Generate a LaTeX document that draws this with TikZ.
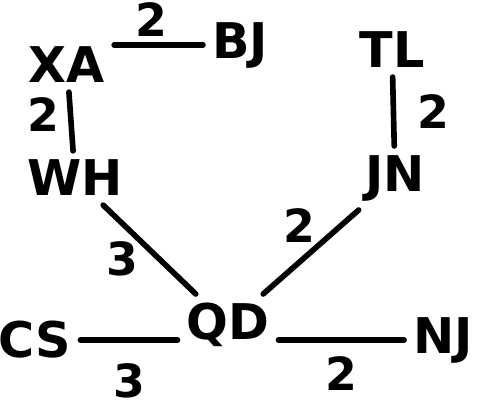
\documentclass[tikz,border=0pt]{standalone}
\usepackage{fontspec}
\setmainfont{DejaVu Sans}

\tikzset{
    stadt/.style={font=\fontsize{28}{28}\selectfont\bfseries, inner sep=5pt},
    gewicht/.style={font=\fontsize{26}{26}\selectfont\bfseries, inner sep=2pt},
    kante/.style={line width=3.2pt, line cap=round}
}

\begin{document}
\begin{tikzpicture}
    \useasboundingbox (0,0) rectangle (9.62,8.14);
    \path node[stadt] (XA) at (1.34,6.84) {XA}
        node[stadt] (BJ) at (4.80,7.24) {BJ}
        node[stadt] (TL) at (7.84,7.14) {TL}
        node[stadt] (WH) at (1.50,4.58) {WH}
        node[stadt] (JN) at (7.90,4.58) {JN}
        node[stadt] (QD) at (4.56,1.64) {QD}
        node[stadt] (CS) at (0.70,1.34) {CS}
        node[stadt] (NJ) at (8.86,1.34) {NJ};
       \draw[kante] (XA.east |- BJ) -- node[gewicht, above=1pt, xshift=-4pt] {2} (BJ.west);
        \draw[kante] (XA) -- node[gewicht, left=3pt, yshift=4pt] {2} (WH);
        \draw[kante] (TL) -- node[gewicht, right=10pt] {2} (JN);
        \draw[kante] (WH) -- node[gewicht, pos=0.6, left=8pt] {3} (QD);
        \draw[kante] (JN) -- node[gewicht, above left=2pt, xshift=8pt] {2} (QD);
        \draw[kante] (CS.east) -- node[gewicht, below=10pt] {3} (CS.east -| QD.west);
        \draw[kante] (QD.east |- NJ) -- node[gewicht, below=6pt] {2} (NJ.west);
    \end{tikzpicture}
\end{document}
